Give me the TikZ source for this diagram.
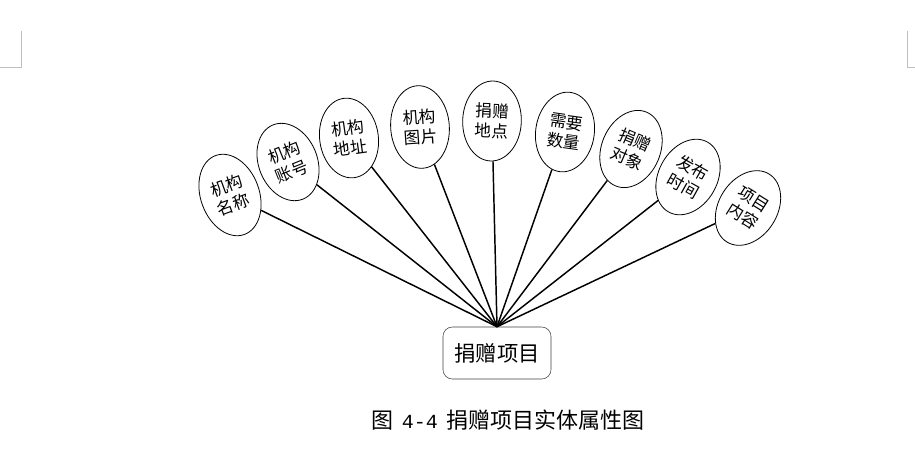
\documentclass[tikz,border=0pt]{standalone}
\usepackage{fontspec}
\setmainfont{Noto Sans CJK SC}
\newfontfamily\numfont{Liberation Mono}
\usetikzlibrary{shapes.geometric}

\begin{document}
\begin{tikzpicture}[x=0.75pt, y=-0.75pt,
  attr/.style={ellipse, draw, line width=0.6pt, minimum width=44pt, minimum height=60pt, inner sep=0pt, align=center, font=\fontsize{12.5}{15}\selectfont},
  entity/.style={draw=black!75, rounded corners=7pt, minimum width=81pt, minimum height=39pt, font=\fontsize{16}{19}\selectfont},
  link/.style={line width=1.1pt}]
\useasboundingbox (0,0) rectangle (915,455);
% page corner marks
\draw[black!25] (21,31) -- (21,67) -- (0,67);
\draw[black!25] (907,31) -- (907,67) -- (915,67);

\node[entity] (proj) at (497,353) {捐赠项目};
\coordinate (hub) at (proj.north);

\node[attr, rotate=20, minimum height=63pt] (orgname) at (230,195) {机构\\名称};
\node[attr, rotate=22] (orgacct) at (288,162) {机构\\账号};
\node[attr, rotate=8] (orgaddr) at (349,138) {机构\\地址};
\node[attr, rotate=4, minimum height=62pt] (orgpic) at (420,127) {机构\\图片};
\node[attr, rotate=-2] (place) at (492,121) {捐赠\\地点};
\node[attr, rotate=-8] (amount) at (565,132) {需要\\数量};
\node[attr, rotate=-23] (target) at (631,149) {捐赠\\对象};
\node[attr, rotate=-29] (ptime) at (688,177) {发布\\时间};
\node[attr, rotate=-32] (content) at (748,208) {项目\\内容};

\draw[link] (orgname) -- (hub);
\draw[link] (orgacct) -- (hub);
\draw[link] (orgaddr) -- (hub);
\draw[link] (orgpic) -- (hub);
\draw[link] (place) -- (hub);
\draw[link] (amount) -- (hub);
\draw[link] (target) -- (hub);
\draw[link] (ptime) -- (hub);
\draw[link] (content) -- (hub);

\node[font=\fontsize{16.5}{20}\selectfont] (caption) at (508,420) {图\hspace{0.4em}{\numfont\fontsize{15}{20}\selectfont 4-4}\hspace{0.4em}捐赠项目实体属性图};
\end{tikzpicture}
\end{document}
